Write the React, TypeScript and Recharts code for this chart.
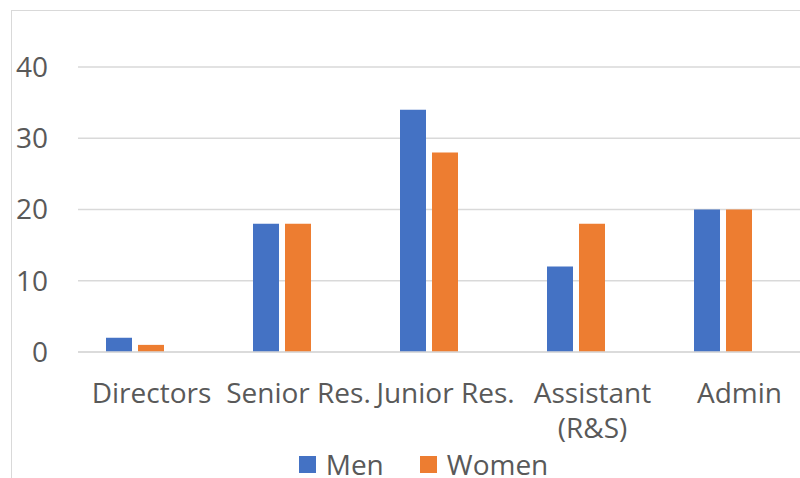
import { BarChart, Bar, XAxis, YAxis, CartesianGrid } from "recharts";

const categories = ["Directors", "Senior Res.", "Junior Res.", "Assistant\n(R&S)", "Admin"];
const menValues = [2, 18, 34, 12, 20];
const womenValues = [1, 18, 28, 18, 20];
// third series is empty in the source, it only takes up a slot in each group
const otherValues = [null, null, null, null, null];
const yTicks = [0, 10, 20, 30, 40];

const series = [
  { key: "men", name: "Men", color: "#4472C4" },
  { key: "women", name: "Women", color: "#ED7D31" },
];

const data = categories.map((c, i) => ({
  category: c,
  men: menValues[i],
  women: womenValues[i],
  other: otherValues[i],
}));

const FONT = "'Open Sans', sans-serif";
const TEXT = "#595959";

function CategoryTick(props: any) {
  const { x, y, payload } = props;
  const lines = String(payload.value).split("\n");
  return (
    <text x={x} y={y} textAnchor="middle" fill={TEXT} fontSize={28} fontFamily={FONT}>
      {lines.map((l, i) => (
        <tspan key={i} x={x} dy={i === 0 ? "0.71em" : 35}>
          {l}
        </tspan>
      ))}
    </text>
  );
}

export default function App() {
  return (
    <div style={{ position: "absolute", left: 0, top: 0, width: 800, height: 478, overflow: "hidden", background: "#fff" }}>
      <div style={{ position: "absolute", left: 11, top: 10, width: 900, height: 600, border: "1px solid #d9d9d9" }}>
        <BarChart
          width={830}
          height={470}
          data={data}
          margin={{ top: 56, right: 29, bottom: 69, left: 0 }}
          barCategoryGap={28}
          barGap={6}
        >
          <CartesianGrid vertical={false} stroke="#d9d9d9" strokeWidth={1.5} />
          <XAxis
            dataKey="category"
            height={60}
            axisLine={{ stroke: "#d9d9d9", strokeWidth: 1.5 }}
            tickLine={false}
            tickSize={0}
            tickMargin={31}
            interval={0}
            tick={<CategoryTick />}
          />
          <YAxis
            width={66}
            domain={[0, 40]}
            ticks={yTicks}
            axisLine={false}
            tickLine={false}
            tickSize={0}
            tickMargin={30}
            tick={{ fill: TEXT, fontSize: 28, fontFamily: FONT }}
          />
          {series.map((s) => (
            <Bar key={s.key} dataKey={s.key} name={s.name} fill={s.color} isAnimationActive={false} />
          ))}
          <Bar dataKey="other" fill="#A5A5A5" isAnimationActive={false} />
        </BarChart>
        <div
          style={{
            position: "absolute",
            left: 0,
            top: 440,
            width: 823,
            display: "flex",
            justifyContent: "center",
            gap: 36,
            fontFamily: FONT,
            fontSize: 28,
            lineHeight: "26px",
            color: TEXT,
          }}
        >
          {series.map((s) => (
            <div key={s.key} style={{ display: "flex", alignItems: "center", gap: 10 }}>
              <span style={{ display: "inline-block", width: 17, height: 17, background: s.color }} />
              <span>{s.name}</span>
            </div>
          ))}
        </div>
      </div>
    </div>
  );
}
